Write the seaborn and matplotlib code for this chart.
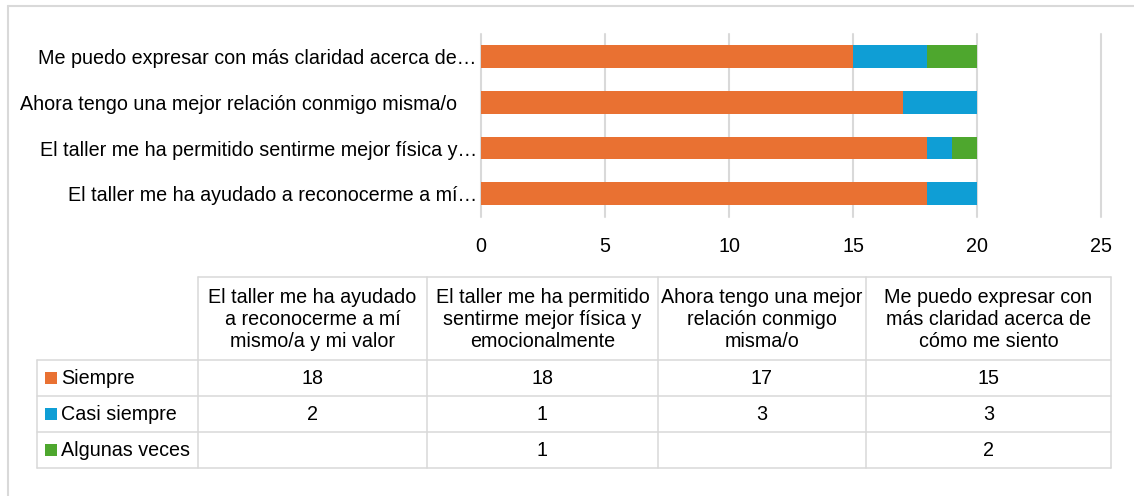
import numpy as np
import pandas as pd
import matplotlib
matplotlib.use("Agg")
import matplotlib.pyplot as plt
import seaborn as sns
from matplotlib.patches import Rectangle
from matplotlib.transforms import ScaledTranslation

# Survey statements (table order) and the shortened labels used on the bar axis
statements = [
    "El taller me ha ayudado\na reconocerme a mí\nmismo/a y mi valor",
    "El taller me ha permitido\nsentirme mejor física y\nemocionalmente",
    "Ahora tengo una mejor\nrelación conmigo\nmisma/o",
    "Me puedo expresar con\nmás claridad acerca de\ncómo me siento",
]
axis_labels = [
    "El taller me ha ayudado a reconocerme a mí…",
    "El taller me ha permitido sentirme mejor física y…",
    "Ahora tengo una mejor relación conmigo misma/o",
    "Me puedo expresar con más claridad acerca de…",
]
series_names = ["Siempre", "Casi siempre", "Algunas veces"]
siempre = [18, 18, 17, 15]
casi_siempre = [2, 1, 3, 3]
algunas_veces = [None, 1, None, 2]
x_ticks = [0, 5, 10, 15, 20, 25]

colors = ["#E97132", "#0F9ED5", "#4EA72E"]
grid_col = "#D9D9D9"
FS = 14.2

sns.set_theme(style="white")
plt.rcParams["font.family"] = ["Liberation Sans", "DejaVu Sans"]

W, H = 1134, 496
fig = plt.figure(figsize=(W / 100, H / 100), dpi=100)
fig.patch.set_facecolor("white")

# ---- stacked horizontal bars ----
ax = fig.add_axes([481 / W, 1 - 216.5 / H, 620 / W, 182.5 / H])
series = [siempre, casi_siempre, algunas_veces]
vals = np.array([[np.nan if v is None else v for v in s] for s in series], dtype=float)
stacked = np.nancumsum(vals, axis=0)
order = axis_labels[::-1]
for i in reversed(range(len(series_names))):
    df = pd.DataFrame({"statement": axis_labels, "value": stacked[i]})
    sns.barplot(data=df, x="value", y="statement", order=order, orient="h",
                color=colors[i], saturation=1, width=0.5, errorbar=None,
                linewidth=0, ax=ax)

ax.set_xlim(x_ticks[0], x_ticks[-1])
ax.set_xticks(x_ticks)
ax.set_xlabel("")
ax.set_ylabel("")
ax.set_axisbelow(True)
ax.grid(axis="x", color=grid_col, linewidth=1.5)
ax.grid(axis="y", visible=False)
for gl in ax.get_xgridlines():
    gl.set_clip_on(False)
for sp in ax.spines.values():
    sp.set_visible(False)
ax.tick_params(axis="y", length=0, pad=3, labelsize=FS, colors="#000000")
ax.tick_params(axis="x", length=0, pad=14.5, labelsize=FS, colors="#000000")

# the un-truncated label sits a little further left
for lab in ax.get_yticklabels():
    if not lab.get_text().endswith("…"):
        lab.set_transform(lab.get_transform() + ScaledTranslation(-20 / 100, 0, fig.dpi_scale_trans))

# ---- data table ----
tab = fig.add_axes([0, 0, 1, 1])
tab.set_xlim(0, W)
tab.set_ylim(H, 0)
tab.axis("off")
tab.patch.set_alpha(0)

lw = 1.1
col_x = [198, 427, 658, 866, 1111]
row_y = [360, 396, 432, 468]
head_top = 277
leg_left = 37

tab.plot([col_x[0], col_x[-1]], [head_top, head_top], color=grid_col, lw=lw)
for y in row_y:
    tab.plot([leg_left, col_x[-1]], [y, y], color=grid_col, lw=lw)
tab.plot([leg_left, leg_left], [row_y[0], row_y[-1]], color=grid_col, lw=lw)
for x in col_x:
    tab.plot([x, x], [head_top, row_y[-1]], color=grid_col, lw=lw)

for j, text in enumerate(statements):
    cx = (col_x[j] + col_x[j + 1]) / 2
    tab.text(cx, (head_top + row_y[0]) / 2 + 1, text, ha="center", va="center",
             fontsize=FS, linespacing=1.22, color="#000000")

for r, name in enumerate(series_names):
    cy = (row_y[r] + row_y[r + 1]) / 2
    tab.add_patch(Rectangle((45, cy - 6), 12, 12, facecolor=colors[r], edgecolor="none"))
    tab.text(61, cy + 1, name, ha="left", va="center", fontsize=FS, color="#000000")
    for j in range(len(statements)):
        v = series[r][j]
        if v is None:
            continue
        cx = (col_x[j] + col_x[j + 1]) / 2
        tab.text(cx, cy + 1, f"{v}", ha="center", va="center", fontsize=FS, color="#000000")

# ---- outer frame ----
tab.plot([8, 8], [6, H], color=grid_col, lw=1.5)
tab.plot([8, W], [6, 6], color=grid_col, lw=1.5)

fig.savefig("out.png", dpi=100, facecolor="white")
